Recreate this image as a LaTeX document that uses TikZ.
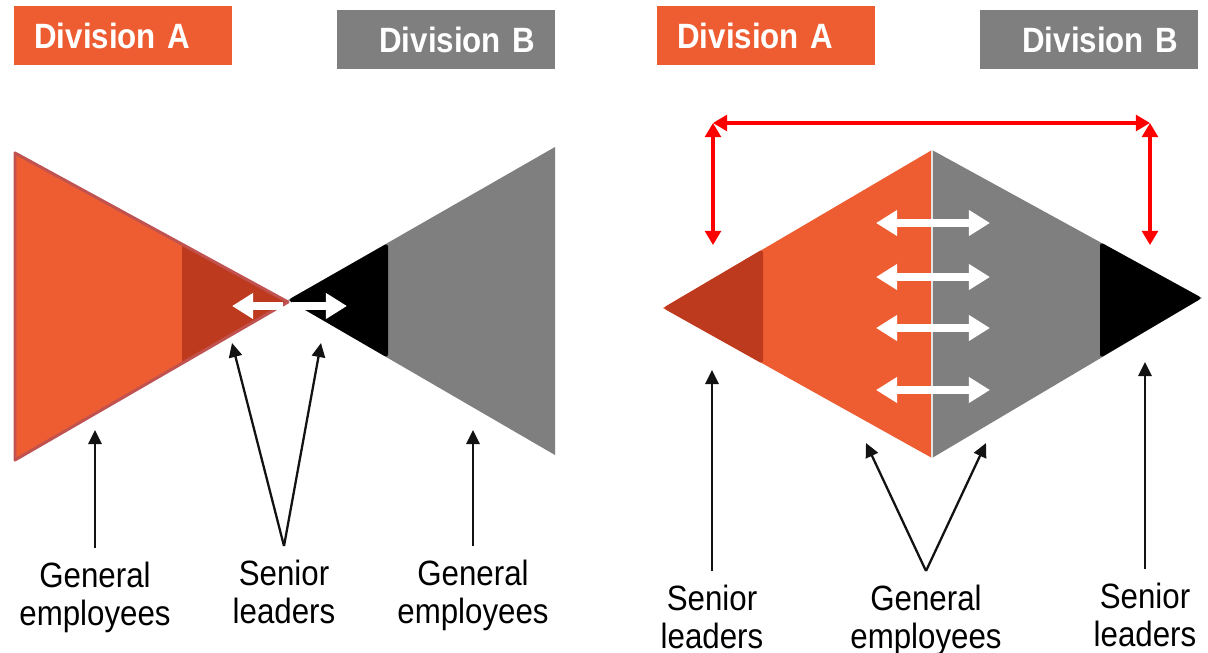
\documentclass[tikz,border=0pt]{standalone}
\usepackage{fontspec}
\setmainfont{Liberation Sans}
\newfontfamily\tallfont{Liberation Sans}[FakeStretch=0.89]
\usetikzlibrary{arrows.meta}
\definecolor{divA}{RGB}{238,93,50}
\definecolor{divAdark}{RGB}{190,58,31}
\definecolor{divB}{RGB}{127,127,127}
\definecolor{rim}{RGB}{192,82,80}
\tikzset{
  head/.style={fill=#1, text=white, font=\tallfont\fontsize{20}{24}\selectfont\bfseries,
    minimum height=1.18cm, text width=3.56cm, inner xsep=0.4cm, inner ysep=0pt,
    anchor=north west},
  lbl/.style={font=\tallfont\fontsize{20}{21.5}\selectfont, align=center, anchor=north, inner ysep=8pt},
  pointer/.style={-{Triangle[length=8pt,width=7.5pt]}, line width=1.3pt, black!93},
  exchange/.style={{Triangle[length=12pt,width=14pt]}-{Triangle[length=12pt,width=14pt]},
    line width=4.5pt, white},
  span/.style={{Triangle[length=8pt,width=9pt]}-{Triangle[length=8pt,width=9pt]},
    line width=1.8pt, red}
}
\begin{document}
\begin{tikzpicture}[x=0.02cm,y=-0.02cm]
  \useasboundingbox (0,0) rectangle (1208,653);

  % two separate divisions
  \node[head=divA, align=left]  (hA) at (14,6)  {Division A};
  \node[head=divB, align=right] (hB) at (337,10) {Division B};

  \fill[divA] (15,153) -- (288,302) -- (15,460) -- cycle;
  \fill[divAdark] (182,244) -- (288,302) -- (182,363) -- cycle;
  \draw[rim, line width=1.7pt, line join=round] (15,153) -- (288,302) -- (15,460) -- cycle;
  \fill[divB] (555,147) -- (288,300) -- (555,455) -- cycle;
  \fill[black, rounded corners=2pt] (388,243) -- (288,300) -- (388,358) -- cycle;

  \coordinate (xa1) at (283,306);
  \coordinate (xa2) at (232,306);
  \coordinate (xb1) at (292,306);
  \coordinate (xb2) at (347,306);
  \draw[-{Triangle[length=12pt,width=14pt]}, line width=4pt, white] (xa1) -- (xa2);
  \draw[-{Triangle[length=12pt,width=14pt]}, line width=4pt, white] (xb1) -- (xb2);

  \node[lbl] (genA) at (95,548)  {General\\employees};
  \node[lbl] (senA) at (284,546) {Senior\\leaders};
  \node[lbl] (genB) at (473,546) {General\\employees};
  \coordinate (tA) at (95,430);
  \coordinate (tA1) at (232,343);
  \coordinate (tA2) at (321,343);
  \coordinate (tB) at (473,430);
  \begin{scope}[pointer]
    \draw (genA.north) -- (tA);
    \draw (senA.north) -- (tA1);
    \draw (senA.north) -- (tA2);
    \draw (genB.north) -- (tB);
  \end{scope}

  % merged divisions
  \node[head=divA, align=left]  (hC) at (657,6)  {Division A};
  \node[head=divB, align=right] (hD) at (980,10) {Division B};

  \fill[divA] (663,308) -- (932,150) -- (932,458) -- cycle;
  \fill[divB] (932,150) -- (1202,298) -- (932,458) -- cycle;
  \draw[white!78!gray, line width=0.7pt] (932,150) -- (932,458);
  \fill[divAdark, rounded corners=2pt] (663,308) -- (763,249) -- (763,364) -- cycle;
  \fill[black, rounded corners=2pt] (1100,242) -- (1202,298) -- (1100,358) -- cycle;

  \foreach \y in {223,277,328,390}
    \draw[exchange] (876,\y) -- (990,\y);

  \coordinate (nw) at (713,123);
  \coordinate (ne) at (1150,123);
  \coordinate (sw) at (713,245);
  \coordinate (se) at (1150,245);
  \begin{scope}[span]
    \draw (nw) -- (ne);
    \draw (nw) -- (sw);
    \draw (ne) -- (se);
  \end{scope}

  \node[lbl] (senC) at (712,571)  {Senior\\leaders};
  \node[lbl] (genD) at (926,571)  {General\\employees};
  \node[lbl] (senE) at (1145,569) {Senior\\leaders};
  \coordinate (tC) at (712,370);
  \coordinate (tD1) at (866,443);
  \coordinate (tD2) at (986,443);
  \coordinate (tE) at (1145,362);
  \begin{scope}[pointer]
    \draw (senC.north) -- (tC);
    \draw (genD.north) -- (tD1);
    \draw (genD.north) -- (tD2);
    \draw (senE.north) -- (tE);
  \end{scope}
\end{tikzpicture}
\end{document}
